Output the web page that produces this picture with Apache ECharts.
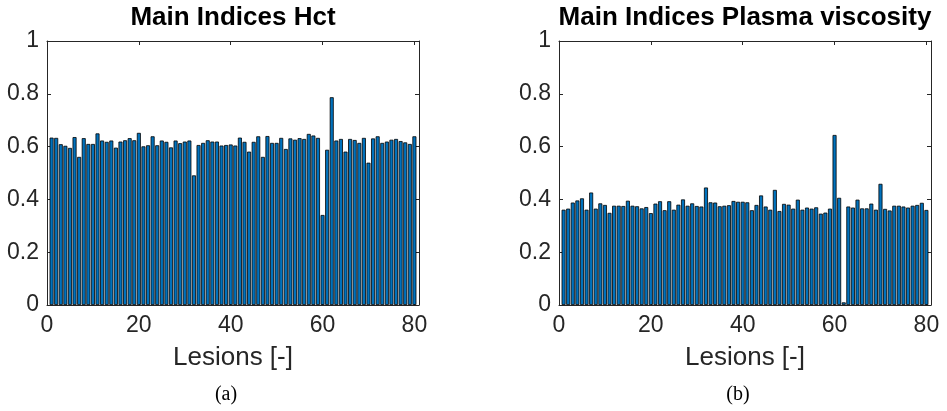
<!DOCTYPE html>
<html>
<head>
<meta charset="utf-8">
<script src="https://cdn.jsdelivr.net/npm/echarts@6/dist/echarts.min.js"></script>
<style>
html,body{margin:0;padding:0;background:#fff;}
#chart{width:947px;height:411px;}
</style>
</head>
<body>
<div id="chart"></div>
<script>
// Lesion indices (x categories)
var lesions = [1,2,3,4,5,6,7,8,9,10,11,12,13,14,15,16,17,18,19,20,
  21,22,23,24,25,26,27,28,29,30,31,32,33,34,35,36,37,38,39,40,
  41,42,43,44,45,46,47,48,49,50,51,52,53,54,55,56,57,58,59,60,
  61,62,63,64,65,66,67,68,69,70,71,72,73,74,75,76,77,78,79,80];

// (a) Main indices Hct
var hctValues = [0.634,0.633,0.609,0.603,0.595,0.636,0.561,0.632,0.610,0.610,
  0.650,0.623,0.618,0.623,0.596,0.619,0.624,0.632,0.624,0.652,
  0.601,0.605,0.639,0.605,0.623,0.618,0.597,0.623,0.613,0.619,
  0.623,0.491,0.606,0.614,0.624,0.619,0.619,0.604,0.606,0.608,
  0.604,0.634,0.618,0.581,0.618,0.639,0.561,0.640,0.614,0.614,
  0.633,0.591,0.631,0.626,0.632,0.629,0.648,0.642,0.633,0.341,
  0.588,0.787,0.623,0.629,0.581,0.629,0.625,0.614,0.633,0.539,
  0.631,0.639,0.614,0.619,0.626,0.629,0.621,0.616,0.610,0.639];

// (b) Main indices Plasma viscosity
var viscValues = [0.361,0.365,0.388,0.396,0.404,0.361,0.426,0.365,0.385,0.379,
  0.349,0.376,0.376,0.375,0.395,0.376,0.374,0.366,0.371,0.348,
  0.384,0.393,0.359,0.393,0.361,0.380,0.400,0.376,0.385,0.375,
  0.373,0.445,0.389,0.388,0.374,0.376,0.378,0.394,0.391,0.391,
  0.389,0.359,0.379,0.415,0.373,0.361,0.436,0.356,0.383,0.380,
  0.365,0.399,0.361,0.369,0.365,0.370,0.346,0.350,0.365,0.644,
  0.406,0.010,0.373,0.369,0.399,0.366,0.366,0.384,0.361,0.459,
  0.364,0.358,0.376,0.376,0.373,0.369,0.376,0.379,0.387,0.360];

var xTicks = [0,20,40,60,80];
var yTicks = [0,0.2,0.4,0.6,0.8,1];

var titles = ['Main Indices Hct','Main Indices Plasma viscosity'];
var xLabel = 'Lesions [-]';
var captions = ['(a)','(b)'];

var AX = '#262626';
var FONT = '"Liberation Sans", Arial, Helvetica, sans-serif';

function pairs(vals){
  var out = [];
  for (var i = 0; i < vals.length; i++) out.push([lesions[i], vals[i]]);
  return out;
}

var grids = [
  {left:47, right:528, top:41, bottom:106},
  {left:559, right:16, top:41, bottom:106}
];

var xAxes = [], yAxes = [], series = [];
[hctValues, viscValues].forEach(function(vals, g){
  // bottom x
  xAxes.push({type:'value', gridIndex:g, position:'bottom', min:0, max:81,
    axisLine:{show:true, lineStyle:{color:AX, width:1}},
    axisTick:{show:true, inside:true, length:4, customValues:xTicks, lineStyle:{color:AX}},
    axisLabel:{show:true, customValues:xTicks, color:AX, fontSize:23, fontFamily:FONT, margin:9},
    splitLine:{show:false}});
  // top x (box)
  xAxes.push({type:'value', gridIndex:g, position:'top', min:0, max:81,
    axisLine:{show:true, onZero:false, lineStyle:{color:AX, width:1}},
    axisTick:{show:true, inside:true, length:4, customValues:xTicks, lineStyle:{color:AX}},
    axisLabel:{show:false}, splitLine:{show:false}});
  // left y
  yAxes.push({type:'value', gridIndex:g, position:'left', min:0, max:1, interval:0.2,
    axisLine:{show:true, onZero:false, lineStyle:{color:AX, width:1}},
    axisTick:{show:true, inside:true, length:4, lineStyle:{color:AX}},
    axisLabel:{show:true, color:AX, fontSize:23, fontFamily:FONT, margin:8,
      formatter:function(v){ return String(Math.round(v*10)/10); }},
    splitLine:{show:false}});
  // right y (box)
  yAxes.push({type:'value', gridIndex:g, position:'right', min:0, max:1, interval:0.2,
    axisLine:{show:true, onZero:false, lineStyle:{color:AX, width:1}},
    axisTick:{show:true, inside:true, length:4, lineStyle:{color:AX}},
    axisLabel:{show:false}, splitLine:{show:false}});
  series.push({type:'bar', xAxisIndex:g*2, yAxisIndex:g*2, data:pairs(vals),
    barWidth:4, animation:false,
    itemStyle:{color:'#0072BD', borderColor:'#000', borderWidth:0.8}});
});

var centers = [233, 745];
var graphics = [];
centers.forEach(function(cx, g){
  graphics.push({type:'text', x:cx, y:18, style:{text:titles[g], fill:'#000',
    font:'bold 26px ' + FONT, textAlign:'center', textVerticalAlign:'middle'}});
  graphics.push({type:'text', x:cx, y:358, style:{text:xLabel, fill:AX,
    font:'26px ' + FONT, textAlign:'center', textVerticalAlign:'middle'}});
  graphics.push({type:'text', x:cx - 7, y:395, style:{text:captions[g], fill:'#000',
    font:'20px "Liberation Serif", "DejaVu Serif", serif', textAlign:'center', textVerticalAlign:'middle'}});
});

var chart = echarts.init(document.getElementById('chart'));
chart.setOption({
  animation:false,
  backgroundColor:'#fff',
  grid:grids,
  xAxis:xAxes,
  yAxis:yAxes,
  series:series,
  graphic:graphics
});
</script>
</body>
</html>
